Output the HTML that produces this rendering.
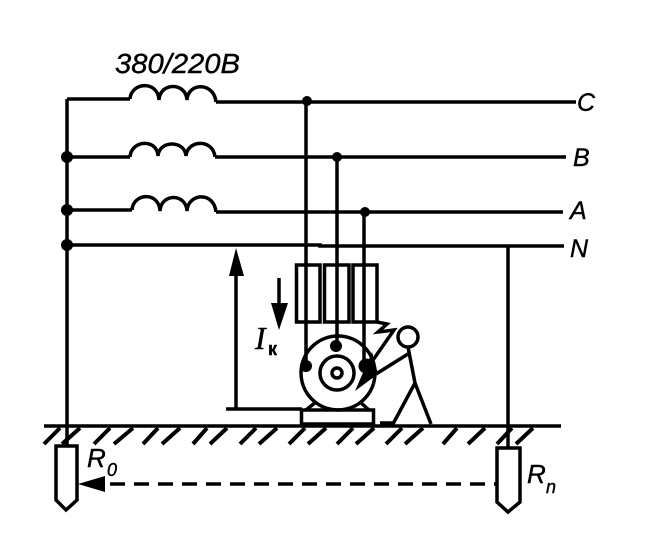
<!DOCTYPE html>
<html><head><meta charset="utf-8"><style>
html,body{margin:0;padding:0;background:#fff}
svg{display:block}
text{font-family:"Liberation Sans",sans-serif;font-style:italic;fill:#000;stroke:#000;stroke-width:.4}
</style></head><body>
<svg width="646" height="554" viewBox="0 0 646 554" xmlns="http://www.w3.org/2000/svg">
<g fill="none" stroke="#000" stroke-width="3.500">
<!-- mains -->
<path d="M67 99V445"/>
<path d="M67 99H130M216 102H576"/>
<path d="M67 157H130M215 157H566"/>
<path d="M67 210H132M216 212H563"/>
<path d="M67 245H320V246H564"/>
<!-- coils -->
<path d="M130 99C131 82 158 80 159 100C160 82 186 82 187 100C188 82 214 82 216 102"/>
<path d="M130 157C131 140 157 138 158 156C159 140 185 140 186 156C187 140 213 138 215 157"/>
<path d="M132 210C133 193 159 191 160 211C161 193 186 193 187 211C188 193 214 191 216 212"/>
<!-- phase wires -->
<path d="M306 101V366M337 157V346M364 212V366"/>
<!-- fuses -->
<rect x="296.500" y="265" width="23.500" height="57"/>
<rect x="324.500" y="265" width="24.500" height="57"/>
<rect x="353" y="265" width="24" height="57"/>
<!-- motor -->
<circle cx="338" cy="373" r="37"/>
<circle cx="337" cy="373" r="17"/>
<circle cx="337" cy="373" r="5"/>
<rect x="301.500" y="410" width="72" height="14"/>
<path d="M306 410L316 402M369 410L360 402"/>
<!-- earth fault path -->
<path d="M236 270V409M226 409H302"/>
<path d="M279 278V305"/>
<!-- person -->
<circle cx="408" cy="337" r="10"/>
<path d="M408 347L415 383L393 424M415 383L431 424M408 354L376 374M380 423H395"/>
<!-- lightning -->
<path d="M377 322L387 324L378 332L394 330L373 360"/>
<!-- ground -->
<path d="M44 426H561"/>
<path d="M508 246V448"/>
<path d="M56 446H77V500L66 510L56 500Z"/>
<path d="M497 448H520V502L508 512L497 502Z"/>
<path d="M90 484H105"/>
<path d="M110 484H496" stroke-dasharray="15 9"/>
<!-- hatching -->
<path stroke-width="4" d="M60 428L44 444M80 428L62 444M110 428L94 444M133 428L114 444M158 428L143 444M180 428L162 444M207 428L193 444M227 428L210 444M256 428L240 444M277 428L259 444M305 428L289 444M326 428L308 444M353 428L337 444M374 428L356 444M402 428L386 444M423 428L405 444M457 428L443 444M485 428L468 444M512 428L497 444M533 428L516 444"/>
</g>
<!-- dots -->
<g fill="#000">
<circle cx="307" cy="101" r="5"/><circle cx="337" cy="157" r="5"/><circle cx="365" cy="212" r="5"/>
<circle cx="67" cy="157" r="6"/><circle cx="67" cy="210" r="6"/><circle cx="67" cy="245" r="6"/>
<circle cx="306" cy="366" r="6"/><circle cx="336" cy="346" r="6"/><circle cx="366" cy="366" r="7.500"/>
<path d="M236 248L229 276H244Z"/>
<path d="M279 330L271 303H288Z"/>
<path d="M78 484L105 476V492Z"/>
<path d="M355 391L372 352L378 374Z"/>
</g>
<!-- labels -->
<text x="115" y="73" font-size="28" textLength="125" lengthAdjust="spacingAndGlyphs">380/220В</text>
<text x="577" y="111" font-size="25">C</text>
<text x="573" y="166" font-size="25">B</text>
<text x="570" y="219" font-size="25">A</text>
<text x="570" y="257" font-size="25">N</text>
<text x="255" y="349" font-size="32" style="font-family:'Liberation Serif',serif">I</text>
<text x="268" y="355" font-size="18" style="font-style:normal;font-weight:bold">к</text>
<text x="87" y="467" font-size="26">R</text>
<text x="107" y="476" font-size="18">0</text>
<text x="527" y="483" font-size="26">R</text>
<text x="546" y="493" font-size="18">n</text>
</svg>
</body></html>
